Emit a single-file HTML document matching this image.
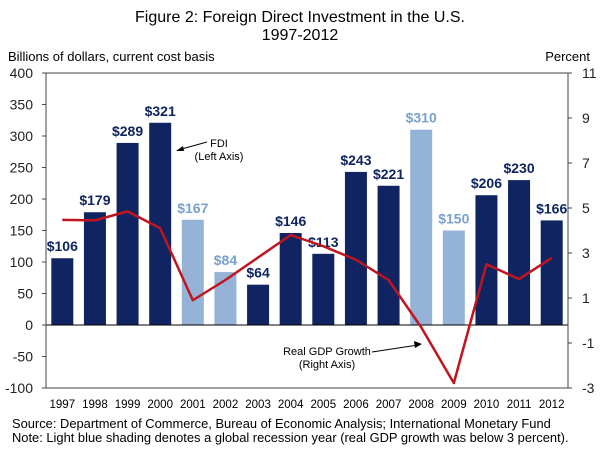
<!DOCTYPE html>
<html><head><meta charset="utf-8"><style>
body{margin:0;background:#fff;font-family:"Liberation Sans",Arial,sans-serif}
</style></head><body>
<svg id="c" width="601" height="462" xmlns="http://www.w3.org/2000/svg" font-family="Liberation Sans, Arial, sans-serif">
<text x="300" y="22" text-anchor="middle" font-size="16">Figure 2: Foreign Direct Investment in the U.S.</text>
<text x="300" y="40" text-anchor="middle" font-size="16">1997-2012</text>
<text x="8" y="61" font-size="13">Billions of dollars, current cost basis</text>
<text x="590" y="61" text-anchor="end" font-size="13">Percent</text>
<g id="plot"></g>
<text font-size="11" text-anchor="middle"><tspan x="219" y="147">FDI</tspan><tspan x="219" y="160">(Left Axis)</tspan></text>
<line x1="207" y1="142" x2="178" y2="150" stroke="#000" stroke-width="1"/>
<polygon points="176,151 183,146 184,151" fill="#000"/>
<text font-size="11" text-anchor="middle"><tspan x="327" y="355">Real GDP Growth</tspan><tspan x="327" y="368">(Right Axis)</tspan></text>
<line x1="372" y1="352" x2="418" y2="345" stroke="#000" stroke-width="1"/>
<polygon points="422,344 414,341 415,348" fill="#000"/>
<text x="12" y="428" font-size="12.9">Source: Department of Commerce, Bureau of Economic Analysis; International Monetary Fund</text>
<text x="12" y="442" font-size="12.9">Note: Light blue shading denotes a global recession year (real GDP growth was below 3 percent).</text>
</svg>
<script>
const years=["1997","1998","1999","2000","2001","2002","2003","2004","2005","2006","2007","2008","2009","2010","2011","2012"];
const fdi=[106,179,289,321,167,84,64,146,113,243,221,310,150,206,230,166];
const recession=[0,0,0,0,1,1,0,0,0,0,0,1,1,0,0,0];
const gdp=[4.47,4.45,4.85,4.1,0.9,1.8,2.8,3.8,3.3,2.7,1.8,-0.3,-2.78,2.5,1.84,2.78];
const leftTicks=[400,350,300,250,200,150,100,50,0,-50,-100];
const rightTicks=[11,9,7,5,3,1,-1,-3];
const NS="http://www.w3.org/2000/svg";
const L=46,R=568,T=73,B=388;
const yL=v=>B-(v+100)/500*(B-T);
const yR=v=>B-(v+3)/14*(B-T);
const bw=(R-L)/years.length;
const xC=i=>L+bw*(i+0.5);
const g=document.getElementById('plot');
function mk(t,a){const e=document.createElementNS(NS,t);for(const k in a)e.setAttribute(k,a[k]);g.appendChild(e);return e;}
fdi.forEach((v,i)=>{
 const col=recession[i]?'#95b3d7':'#0f2461';
 const r=mk('rect',{x:xC(i)-11,y:yL(v),width:22,height:yL(0)-yL(v),fill:col});
 
 
 const t=mk('text',{x:xC(i),y:yL(v)-7,'text-anchor':'middle','font-size':14,'font-weight':'bold',fill:recession[i]?'#7aa0d0':'#0f2461'});
 t.textContent='$'+v;
 
 
 const x=mk('text',{x:xC(i),y:408,'text-anchor':'middle','font-size':11.5});
 x.textContent=years[i];
 
 
});
const z=mk('line',{x1:L,x2:R,y1:yL(0),y2:yL(0),stroke:'#000','stroke-width':1});


const fr=mk('rect',{x:L,y:T,width:R-L,height:B-T,fill:'none',stroke:'#444','stroke-width':1});


leftTicks.forEach(v=>{
 mk('line',{x1:L-4,x2:L,y1:yL(v),y2:yL(v),stroke:'#444'});
 const t=mk('text',{x:L-13,y:yL(v)+5,'text-anchor':'end','font-size':14,fill:'#222'});
 t.textContent=v;
 
 
});
rightTicks.forEach(v=>{
 mk('line',{x1:R,x2:R+4,y1:yR(v),y2:yR(v),stroke:'#444'});
 const t=mk('text',{x:R+14,y:yR(v)+5,'text-anchor':'start','font-size':14,fill:'#222'});
 t.textContent=v;
 
 
});
const p=mk('polyline',{points:gdp.map((v,i)=>xC(i)+','+yR(v)).join(' '),fill:'none',stroke:'#c0141e','stroke-width':2.5,'stroke-linejoin':'round'});


</script>
</body></html>
